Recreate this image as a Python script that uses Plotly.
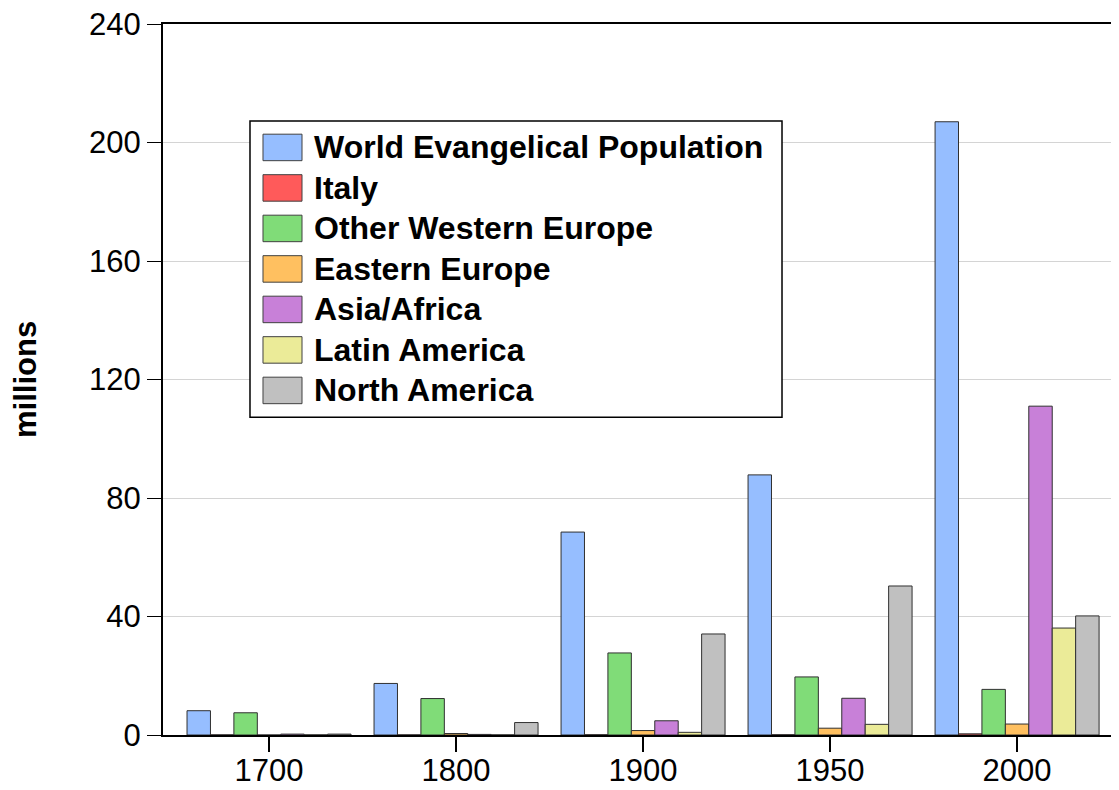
"""Evangelical population by region, grouped bar chart."""

import plotly.graph_objects as go

# ── data ─────────────────────────────────────────────────────────────

years = ["1700", "1800", "1900", "1950", "2000"]

world = [8.2, 17.4, 68.5, 87.8, 207.0]
italy = [0.05, 0.05, 0.1, 0.1, 0.4]
other_west_europe = [7.5, 12.3, 27.7, 19.6, 15.4]
eastern_europe = [0.0, 0.5, 1.5, 2.3, 3.7]
asia_africa = [0.3, 0.2, 4.8, 12.4, 111.0]
latin_america = [0.05, 0.05, 0.9, 3.6, 36.1]
north_america = [0.3, 4.2, 34.1, 50.3, 40.2]

series_names = [
    "World Evangelical Population",
    "Italy",
    "Other Western Europe",
    "Eastern Europe",
    "Asia/Africa",
    "Latin America",
    "North America",
]
series_values = [
    world,
    italy,
    other_west_europe,
    eastern_europe,
    asia_africa,
    latin_america,
    north_america,
]

COLORS = ["#96BEFF", "#FF5A5A", "#80DC78", "#FFC060", "#C880D8", "#EBEB98", "#C0C0C0"]

FONT = "Liberation Sans, Arial, sans-serif"

# ── chart ────────────────────────────────────────────────────────────

fig = go.Figure()
for name, vals, color in zip(series_names, series_values, COLORS):
    fig.add_trace(
        go.Bar(
            x=years,
            y=vals,
            name=name,
            marker={"color": color, "line": {"color": "#303030", "width": 1}},
            showlegend=False,
        )
    )

# hand-drawn legend box with large swatches (paper coords)
fig.add_shape(
    type="rect", xref="paper", yref="paper",
    x0=0.091, x1=0.6475, y0=0.447, y1=0.8636,
    line={"color": "black", "width": 1.5}, fillcolor="white", layer="above",
)
row_step = 40.5 / 711
sw_h = 26.5 / 711
for i, (name, color) in enumerate(zip(series_names, COLORS)):
    yc = 0.8264 - i * row_step
    fig.add_shape(
        type="rect", xref="paper", yref="paper",
        x0=0.1046, x1=0.1454, y0=yc - sw_h / 2, y1=yc + sw_h / 2,
        line={"color": "#404040", "width": 1}, fillcolor=color, layer="above",
    )
    fig.add_annotation(
        xref="paper", yref="paper", x=0.1555, y=yc,
        text=f"<b>{name}</b>", showarrow=False,
        xanchor="left", yanchor="middle",
        font={"family": FONT, "size": 32, "color": "black"},
    )

fig.add_annotation(
    xref="paper", yref="paper", x=-0.1444, y=0.5007,
    text="<b>millions</b>", textangle=-90, showarrow=False,
    xanchor="center", yanchor="middle",
    font={"family": FONT, "size": 31, "color": "black"},
)

# the page body adds an 8px margin; size/margins land the plot at 163..1119 x 24..735
fig.update_layout(
    width=1111,
    height=782,
    margin={"l": 155, "r": 0, "t": 16, "b": 55},
    paper_bgcolor="white",
    plot_bgcolor="white",
    barmode="group",
    bargap=0.123,
    bargroupgap=0,
    font={"family": FONT, "size": 31, "color": "black"},
    xaxis={
        "type": "category",
        "range": [-0.567, 4.545],
        "automargin": False,
        "showline": True,
        "linecolor": "black",
        "linewidth": 2,
        "mirror": True,
        "ticks": "outside",
        "ticklen": 15,
        "tickwidth": 1.5,
        "tickcolor": "black",
        "showgrid": False,
        "tickfont": {"size": 31},
        "ticklabelstandoff": -8,
        "ticklabeloverflow": "allow",
    },
    yaxis={
        "range": [0, 240],
        "tickvals": [0, 40, 80, 120, 160, 200, 240],
        "automargin": False,
        "showline": True,
        "linecolor": "black",
        "linewidth": 2,
        "ticks": "outside",
        "ticklen": 14,
        "tickwidth": 1,
        "tickcolor": "black",
        "showgrid": True,
        "gridcolor": "#D4D4D4",
        "gridwidth": 1,
        "zeroline": False,
        "tickfont": {"size": 31},
        "ticklabeloverflow": "allow",
    },
)

fig.write_html("out.html")
